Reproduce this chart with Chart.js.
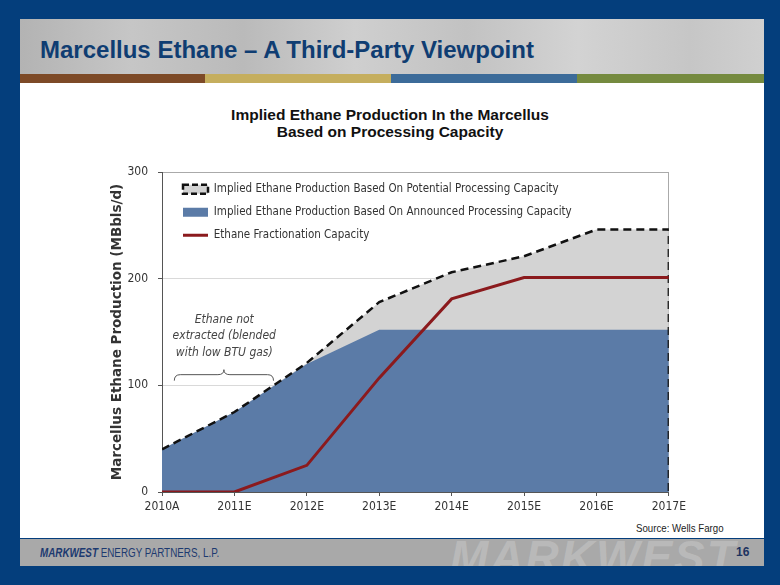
<!DOCTYPE html>
<html><head><meta charset="utf-8">
<script src="https://cdn.jsdelivr.net/npm/chart.js@4.4.1/dist/chart.umd.min.js"></script>
<style>
html,body{margin:0;padding:0;}
body{width:780px;height:585px;background:#043e7c;position:relative;overflow:hidden;font-family:"Liberation Sans",Arial,sans-serif;}
#header{position:absolute;left:20px;top:19px;width:744px;height:55px;background:linear-gradient(90deg,#b3b3b3 0%,#c6c6c6 15%,#bababa 30%,#cfcfcf 45%,#c2c2c2 60%,#d3d3d3 75%,#c6c6c6 90%,#d0d0d0 100%);}
#title{position:absolute;left:40px;top:36px;font-weight:bold;font-size:24px;color:#0f3d72;white-space:nowrap;}
.bar{position:absolute;top:74px;height:9px;}
#white{position:absolute;left:20px;top:83px;width:744px;height:455px;background:#fff;}
#ctitle{position:absolute;left:190px;width:400px;top:106px;text-align:center;font-weight:bold;font-size:15.5px;line-height:17px;color:#111;}
#source{position:absolute;left:636px;top:522px;font-size:11px;color:#222;white-space:nowrap;transform:scaleX(0.88);transform-origin:0 0;}
#footer{position:absolute;left:20px;top:539px;width:744px;height:27px;background:#a9a9a9;overflow:hidden;}
#wm{position:absolute;left:430px;top:-9px;font-size:46px;font-weight:bold;font-style:italic;color:rgba(255,255,255,0.2);white-space:nowrap;letter-spacing:2px;}
#mw{position:absolute;left:20px;top:7px;font-size:12px;color:#1d3a70;white-space:nowrap;transform:scaleX(0.82);transform-origin:0 0;}
#mw b{font-style:italic;}
#pg{position:absolute;left:716px;top:6px;font-size:12px;font-weight:bold;color:#1d3360;}
#c{position:absolute;left:90px;top:150px;}
</style></head>
<body>
<div id="header"></div>
<div id="title">Marcellus Ethane – A Third-Party Viewpoint</div>
<div class="bar" style="left:20px;width:185px;background:#7d4a27"></div>
<div class="bar" style="left:205px;width:186px;background:#c5ae5e"></div>
<div class="bar" style="left:391px;width:186px;background:#3c6b99"></div>
<div class="bar" style="left:577px;width:187px;background:#758a3f"></div>
<div id="white"></div>
<div id="ctitle">Implied Ethane Production In the Marcellus<br>Based on Processing Capacity</div>
<div id="source">Source: Wells Fargo</div>
<div id="footer"><div id="wm">MARKWEST</div><div id="mw"><b>MARKWEST</b> ENERGY PARTNERS, L.P.</div><div id="pg">16</div></div>
<canvas id="c" width="600" height="380"></canvas>
<script>
const categories = ['2010A','2011E','2012E','2013E','2014E','2015E','2016E','2017E'];
const potentialCapacity = [40, 75, 121, 178, 206, 221, 246, 246];
const announcedCapacity = [40, 75, 120, 152, 152, 152, 152, 152];
const fractionationCapacity = [0, 0, 25, 107, 181, 201, 201, 201];
const legendLabels = [
  'Implied Ethane Production Based On Potential Processing Capacity',
  'Implied Ethane Production Based On Announced Processing Capacity',
  'Ethane Fractionation Capacity'
];
const annotationLines = ['Ethane not', 'extracted (blended', 'with low BTU gas)'];
const yAxisTitle = 'Marcellus Ethane Production (MBbls/d)';

const toXY = arr => arr.map((v, i) => ({x: i, y: v}));
const lastIdx = categories.length - 1;
const potentialLine = toXY(potentialCapacity).concat([{x: lastIdx, y: 0}]);

const tickFont = {family: '"DejaVu Sans Condensed","DejaVu Sans",sans-serif', size: 12};

const annotPlugin = {
  id: 'annot',
  afterDatasetsDraw(chart) {
    const {ctx, scales: {x, y}} = chart;
    ctx.save();
    ctx.font = 'italic 12px "DejaVu Sans Condensed","DejaVu Sans",sans-serif';
    ctx.fillStyle = '#444';
    ctx.textAlign = 'center';
    ctx.textBaseline = 'middle';
    const cx = x.getPixelForValue(0.86);
    const ys = [161, 146, 130];
    annotationLines.forEach((t, i) => ctx.fillText(t, cx, y.getPixelForValue(ys[i])));
    const x0 = x.getPixelForValue(0.17), x1 = x.getPixelForValue(1.54);
    const xm = (x0 + x1) / 2, yl = y.getPixelForValue(110);
    ctx.strokeStyle = '#555';
    ctx.lineWidth = 1;
    ctx.beginPath();
    ctx.moveTo(x0, yl + 6);
    ctx.quadraticCurveTo(x0, yl, x0 + 6, yl);
    ctx.lineTo(xm - 6, yl);
    ctx.quadraticCurveTo(xm, yl, xm, yl - 5);
    ctx.quadraticCurveTo(xm, yl, xm + 6, yl);
    ctx.lineTo(x1 - 6, yl);
    ctx.quadraticCurveTo(x1, yl, x1, yl + 6);
    ctx.stroke();
    ctx.restore();
  }
};
const legendShift = {
  id: 'legendShift',
  afterLayout(chart) {
    const lg = chart.legend;
    if (lg) {
      const h = lg.height;
      lg.left = chart.chartArea.left + 9.5; lg.right = lg.left + lg.width;
      lg.top = chart.chartArea.top; lg.bottom = lg.top + h;
    }
  }
};

new Chart(document.getElementById('c'), {
  type: 'line',
  data: {
    datasets: [
      {label: 'potentialFill', data: toXY(potentialCapacity), fill: 'origin', backgroundColor: '#d3d3d3', borderWidth: 0, pointRadius: 0, order: 4},
      {label: legendLabels[1], data: toXY(announcedCapacity), fill: 'origin', backgroundColor: '#5b7ba7', borderWidth: 0, pointRadius: 0, order: 3},
      {label: legendLabels[0], data: potentialLine, fill: false, borderColor: '#111', borderWidth: 2.5, borderDash: [8, 5], pointRadius: 0, order: 2},
      {label: legendLabels[2], data: toXY(fractionationCapacity), fill: false, borderColor: '#8b1a1d', borderWidth: 3, pointRadius: 0, order: 1}
    ]
  },
  options: {
    responsive: false,
    animation: false,
    devicePixelRatio: 1,
    layout: {padding: {top: 22, right: 21, left: 0, bottom: 0}},
    plugins: {
      tooltip: {enabled: false},
      legend: {
        position: 'chartArea',
        align: 'start',
        onClick: null,
        labels: {
          usePointStyle: true,
          pointStyleWidth: 25,
          boxHeight: 9,
          padding: 11.5,
          color: '#333',
          font: {family: '"DejaVu Sans Condensed","DejaVu Sans",sans-serif', size: 11.5},
          generateLabels: () => [
            {text: legendLabels[0], fillStyle: '#d3d3d3', strokeStyle: '#111', lineWidth: 2.5, lineDash: [6, 3], pointStyle: 'rect', hidden: false, datasetIndex: 2, fontColor: '#333'},
            {text: legendLabels[1], fillStyle: '#5b7ba7', strokeStyle: '#5b7ba7', lineWidth: 0, pointStyle: 'rect', hidden: false, datasetIndex: 1, fontColor: '#333'},
            {text: legendLabels[2], fillStyle: '#8b1a1d', strokeStyle: '#8b1a1d', lineWidth: 3, pointStyle: 'line', hidden: false, datasetIndex: 3, fontColor: '#333'}
          ]
        }
      }
    },
    scales: {
      x: {
        type: 'linear', min: 0, max: lastIdx,
        afterFit(s) { s.height = 38; },
        ticks: {stepSize: 1, autoSkip: false, padding: 4, color: '#333', font: tickFont, callback: v => categories[v]},
        grid: {
          color: c => (c.tick && c.tick.value === lastIdx) ? '#aaa' : 'rgba(0,0,0,0)',
          tickColor: '#555', tickLength: 4
        },
        border: {display: true, color: '#555', width: 1}
      },
      y: {
        min: 0, max: 300,
        afterFit(s) { s.width = 72; },
        ticks: {stepSize: 100, padding: 10, color: '#333', font: tickFont},
        grid: {
          color: c => c.tick.value === 300 ? '#aaa' : (c.tick.value === 0 ? 'rgba(0,0,0,0)' : '#d9d9d9'),
          tickColor: '#555', tickLength: 4
        },
        border: {display: true, color: '#555', width: 1},
        title: {display: true, text: yAxisTitle, color: '#333', padding: {top: 19, bottom: 0},
          font: {family: '"DejaVu Sans","Verdana",sans-serif', size: 13.5, weight: 'bold'}}
      }
    }
  },
  plugins: [annotPlugin, legendShift]
});
</script>
</body></html>
